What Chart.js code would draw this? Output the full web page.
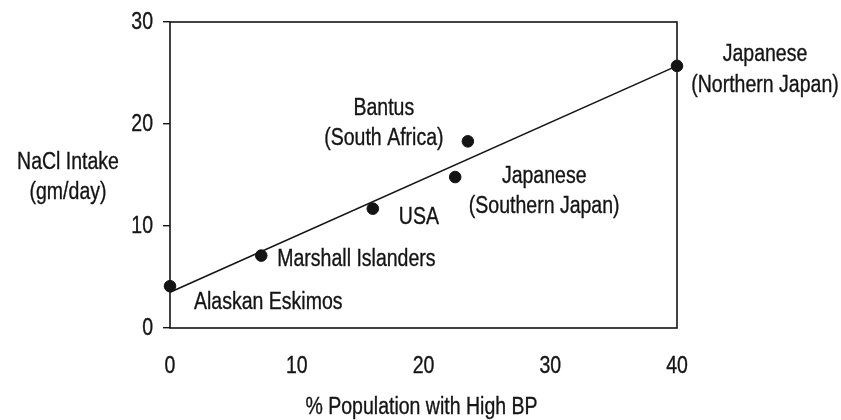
<!DOCTYPE html>
<html><head><meta charset="utf-8">
<script src="https://cdn.jsdelivr.net/npm/chart.js@4/dist/chart.umd.min.js"></script>
<style>html,body{margin:0;padding:0;background:#fff;}#wrap{width:841px;height:420px;position:relative;}</style>
</head><body><div id="wrap"><canvas id="c"></canvas></div>
<script>
// ---- data ----
const groups = [
  ['Alaskan Eskimos'],
  ['Marshall Islanders'],
  ['USA'],
  ['Japanese', '(Southern Japan)'],
  ['Bantus', '(South Africa)'],
  ['Japanese', '(Northern Japan)']
];
const pctHighBP = [0, 7.2, 16.0, 22.5, 23.5, 40];
const naclIntake = [4.1, 7.1, 11.7, 14.8, 18.3, 25.7];
const trendX = [0, 40];
const trendY = [3.5, 25.7];
const xTicks = [0, 10, 20, 30, 40];
const yTicks = [0, 10, 20, 30];
const xTitle = '% Population with High BP';
const yTitle = ['NaCl Intake', '(gm/day)'];

// ---- label placement (style only) ----
const labelStyle = [
  {align: 'left', dx: 24, dy: 16},
  {align: 'left', dx: 16, dy: 4},
  {align: 'left', dx: 26, dy: 9},
  {align: 'center', dx: 89, dy: -1},
  {align: 'center', dx: -84, dy: -33},
  {align: 'center', dx: 88, dy: -11}
];

// narrow-looking sans: Liberation Sans, horizontally condensed
const FONT = "'Liberation Sans', Arial, sans-serif";
const FS = 23.5;
const SX = 0.83;
const INK = '#141414';
const LINE_GAP = 30.5;

function narrowText(ctx, str, x, y, align) {
  ctx.save();
  ctx.translate(x, y);
  ctx.scale(SX, 1);
  ctx.textAlign = align;
  ctx.fillText(str, 0, 0);
  ctx.strokeText(str, 0, 0);
  ctx.restore();
}

const pts = pctHighBP.map((x, i) => ({x, y: naclIntake[i]}));
const trend = trendX.map((x, i) => ({x, y: trendY[i]}));

const annot = {
  id: 'annot',
  beforeDatasetsDraw(chart) {
    const {ctx, chartArea: a} = chart;
    ctx.save();
    ctx.strokeStyle = INK;
    ctx.lineWidth = 1.6;
    ctx.strokeRect(a.left, a.top, a.right - a.left, a.bottom - a.top);
    ctx.restore();
  },
  afterDatasetsDraw(chart) {
    const {ctx, chartArea: a, scales} = chart;
    ctx.save();
    ctx.fillStyle = INK;
    ctx.strokeStyle = INK;
    ctx.lineWidth = 0.35;
    ctx.font = FS + 'px ' + FONT;
    ctx.textBaseline = 'middle';
    // tick labels, placed by the scales
    scales.x.ticks.forEach(t => {
      narrowText(ctx, String(t.value), scales.x.getPixelForValue(t.value), a.bottom + 39, 'center');
    });
    scales.y.ticks.forEach(t => {
      narrowText(ctx, String(t.value), a.left - 17, scales.y.getPixelForValue(t.value) + 1, 'right');
    });
    // point labels
    const meta = chart.getDatasetMeta(1);
    meta.data.forEach((p, i) => {
      const s = labelStyle[i];
      groups[i].forEach((line, k) => {
        narrowText(ctx, line, p.x + s.dx, p.y + s.dy + k * LINE_GAP, s.align);
      });
    });
    // axis titles
    narrowText(ctx, xTitle, (a.left + a.right) / 2 - 2, a.bottom + 80, 'center');
    yTitle.forEach((line, k) => {
      narrowText(ctx, line, a.left - 102, a.top + 141 + k * 30, 'center');
    });
    ctx.restore();
  }
};

new Chart(document.getElementById('c'), {
  type: 'scatter',
  data: {
    datasets: [
      {
        type: 'line', data: trend, borderColor: INK, borderWidth: 1.6,
        pointRadius: 0, fill: false, tension: 0, clip: false
      },
      {
        data: pts, backgroundColor: INK, borderColor: INK,
        pointRadius: 5.8, pointHoverRadius: 5.8, clip: false
      }
    ]
  },
  options: {
    responsive: true, maintainAspectRatio: false, animation: false,
    events: [],
    layout: {padding: {top: 22, right: 164, left: 0, bottom: 0}},
    plugins: {legend: {display: false}, tooltip: {enabled: false}},
    scales: {
      x: {
        type: 'linear', min: 0, max: 40,
        afterFit: s => { s.height = 92; },
        afterBuildTicks: s => { s.ticks = xTicks.map(v => ({value: v})); },
        grid: {display: false},
        border: {display: false},
        ticks: {display: false}
      },
      y: {
        type: 'linear', min: 0, max: 30,
        afterFit: s => { s.width = 170; },
        afterBuildTicks: s => { s.ticks = yTicks.map(v => ({value: v})); },
        grid: {drawOnChartArea: false, drawTicks: true, tickLength: 7, color: INK, lineWidth: 1.4},
        border: {display: false},
        ticks: {display: false}
      }
    }
  },
  plugins: [annot]
});
</script>
</body></html>
